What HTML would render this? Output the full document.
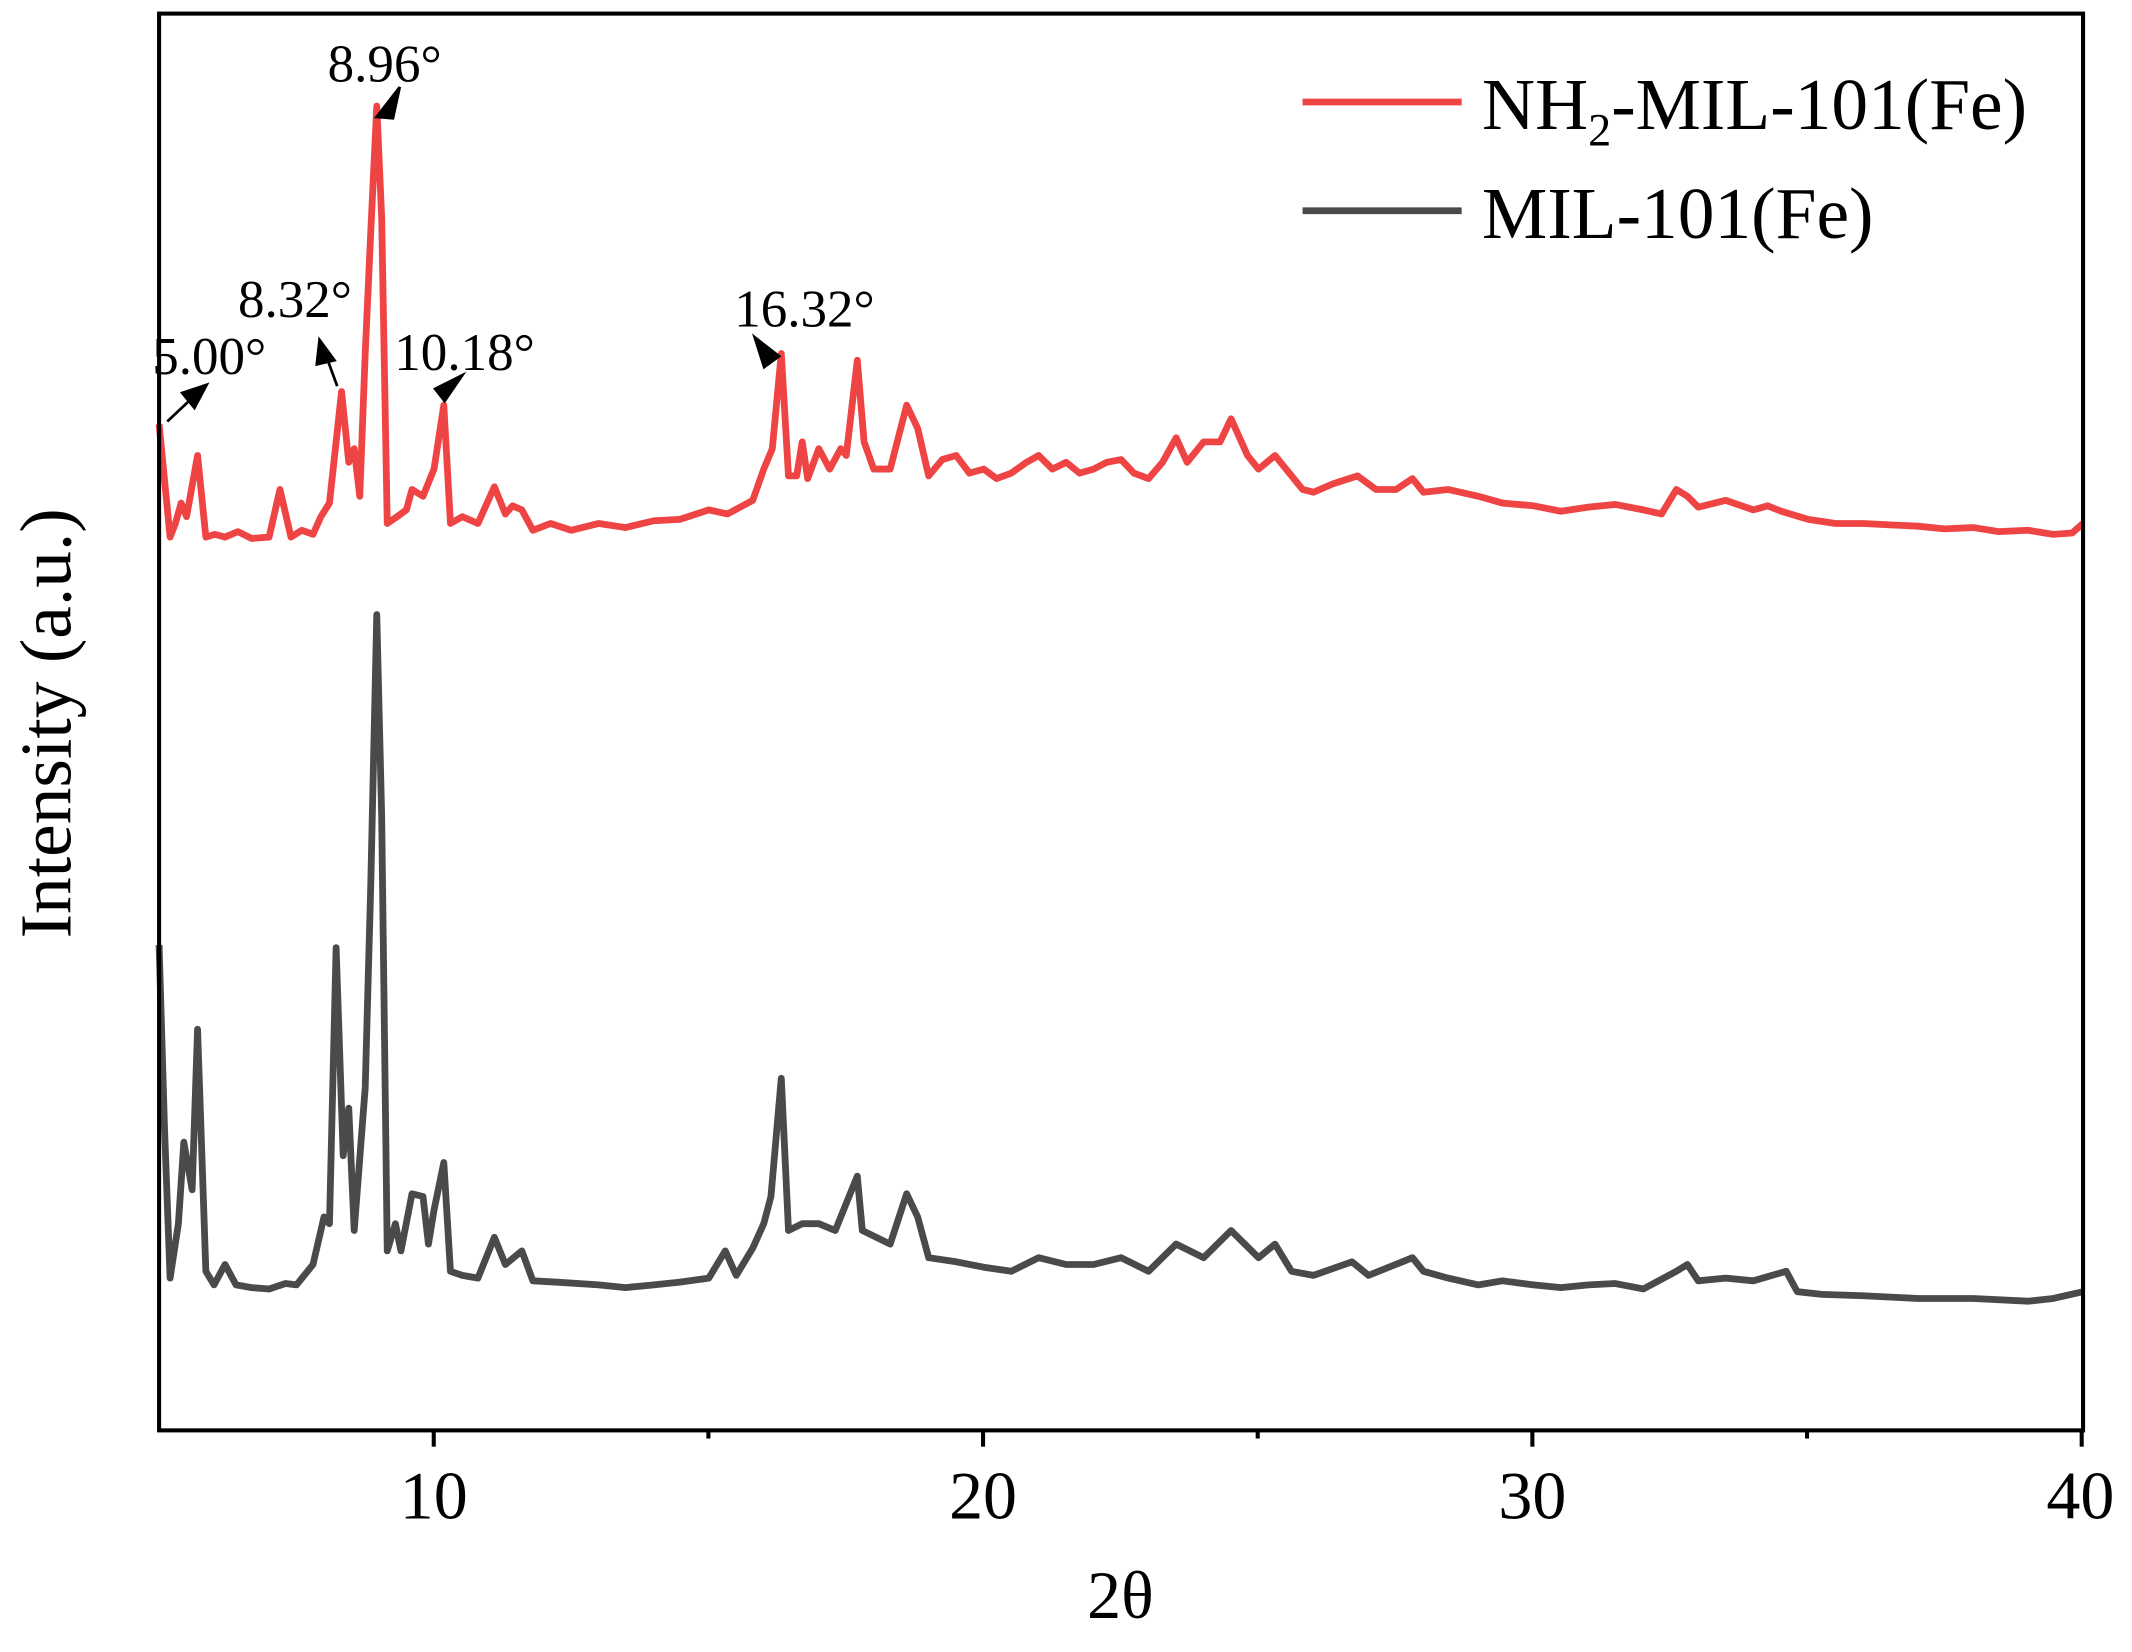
<!DOCTYPE html>
<html><head><meta charset="utf-8"><style>
html,body{margin:0;padding:0;background:#fff;}
svg{display:block;}
text{font-family:"Liberation Serif",serif;fill:#000;}
</style></head><body>
<svg width="2132" height="1652" viewBox="0 0 1568 1215" preserveAspectRatio="none" xmlns="http://www.w3.org/2000/svg">
<rect x="0" y="0" width="1568" height="1215" fill="#fff"/>
<polyline fill="none" stroke="#ef4444" stroke-width="5" stroke-linejoin="round" points="117,312 125.1,395 129,385 133.2,370 137.2,380 145.3,335 151.4,395 158,393 165.5,395 175,391 185,396 197.9,395 205.9,360 214,395 222,390 230.2,393 236,380 242.3,370 251.2,288 256.5,340 260.5,330 264.6,365 268.6,260 272.7,170 277.1,78 280.7,160 284.8,385 292,380 298.9,375 303,360 311.1,365 319.2,345 326.4,298 331.3,385 340,380 351.5,385 363.6,358 371.7,378 377,372 383.8,375 391.9,390 405,385 420,390 440.4,385 460,388 480.9,383 500,382 521.3,375 535,378 553.6,368 561.7,345 568,330 574.6,260 579.9,350 585.9,350 590,325 594,352 602.2,330 610.2,345 618.3,330 622.4,335 630.5,265 635.5,325 642.6,345 654.7,345 666.8,298 674.9,315 683,350 693,338 703.2,335 713,348 723.5,345 733,352 743.7,348 755,340 763.9,335 774,345 784.1,340 794,348 804.3,345 814,340 824.5,338 834,348 844.7,352 855,340 865,322 873.1,340 885.2,325 897.3,325 905.4,308 917.5,335 925.6,345 937.7,335 949.9,350 958,360 966,362 980,356 998.4,350 1012,360 1026.7,360 1038.8,352 1046.9,362 1065,360 1087.3,365 1105,370 1127.8,372 1148,376 1168.2,373 1188,371 1208.6,375 1222,378 1232.9,360 1241,365 1249,373 1269.2,368 1289.5,375 1300,372 1310,376 1329.9,382 1350,385 1370.3,385 1390,386 1410.7,387 1430,389 1451.2,388 1470,391 1491.6,390 1510,393 1524,392 1532,385"/>
<polyline fill="none" stroke="#4a4a4a" stroke-width="5" stroke-linejoin="round" points="117,695 121,830 125.1,940 131.2,900 135.2,840 141.3,875 145.3,757 151.4,935 157.4,945 165.5,930 173.6,945 185,947 197.9,948 210,944 218.1,945 230.2,930 238.3,895 242.3,900 247.2,697 252.4,850 256.5,815 260.5,905 268.6,800 272.7,650 277.1,452 280.7,600 284.8,920 290.8,900 294.9,920 303,878 311.1,880 315.1,915 319.2,890 326.4,855 331.3,935 340,938 351.5,940 363.6,910 371.7,930 383.8,920 391.9,942 410,943 440.4,945 460,947 480.9,945 500,943 521.3,940 533.4,920 541.5,938 553.6,918 561.7,900 567,880 574.6,793 579.9,905 590,900 602.2,900 614.3,905 630.5,865 634.2,905 654.7,915 666.8,878 674.9,895 683,925 703.2,928 723.5,932 743.7,935 763.9,925 784.1,930 804.3,930 824.5,925 844.7,935 865,915 885.2,925 905.4,905 925.6,925 937.7,915 949.9,935 966,938 994.3,928 1006.5,938 1038.8,925 1046.9,935 1065,940 1087.3,945 1105,942 1127.8,945 1148,947 1168.2,945 1188,944 1208.6,948 1232.9,935 1241,930 1249,942 1269.2,940 1289.5,942 1313.7,935 1321.8,950 1340,952 1370.3,953 1410.7,955 1451.2,955 1491.6,957 1510,955 1532,950"/>
<rect x="117" y="10" width="1415" height="1042" fill="none" stroke="#000" stroke-width="3"/>
<g stroke="#000" stroke-width="3">
<line x1="319" y1="1052" x2="319" y2="1064"/><line x1="723" y1="1052" x2="723" y2="1064"/>
<line x1="1127" y1="1052" x2="1127" y2="1064"/><line x1="1531" y1="1052" x2="1531" y2="1064"/>
<line x1="521" y1="1052" x2="521" y2="1058"/><line x1="925" y1="1052" x2="925" y2="1058"/>
<line x1="1329" y1="1052" x2="1329" y2="1058"/>
</g>
<g font-size="50" text-anchor="middle">
<text x="319" y="1117">10</text><text x="723" y="1117">20</text>
<text x="1127" y="1117">30</text><text x="1530" y="1117">40</text>
<text x="824" y="1190">2θ</text>
</g>
<text font-size="54" text-anchor="middle" transform="translate(52,532) rotate(-90)">Intensity (a.u.)</text>
<line x1="958" y1="75" x2="1075" y2="75" stroke="#ef4444" stroke-width="5"/>
<line x1="958" y1="155" x2="1075" y2="155" stroke="#4a4a4a" stroke-width="5"/>
<text x="1090" y="95" font-size="54">NH<tspan font-size="34" dy="12">2</tspan><tspan dy="-12">-MIL-101(Fe)</tspan></text>
<text x="1090" y="175" font-size="54">MIL-101(Fe)</text>
<g font-size="39">
<text x="241" y="60">8.96°</text>
<text x="175" y="233">8.32°</text>
<text x="112" y="275">5.00°</text>
<text x="290" y="272">10.18°</text>
<text x="540" y="240">16.32°</text>
</g>
<g stroke="#000" stroke-width="2" fill="#000">
<line x1="123" y1="310" x2="140" y2="294"/><polygon points="152,283 134,289 143,300"/>
<line x1="248" y1="284" x2="240" y2="262"/><polygon points="235,250 233,268 246,265"/>
<polygon points="294,64 277,86 289,87"/>
<polygon points="340,276 320,286 327,295"/>
<polygon points="555,248 573,262 562,270"/>
</g>
</svg>
</body></html>
